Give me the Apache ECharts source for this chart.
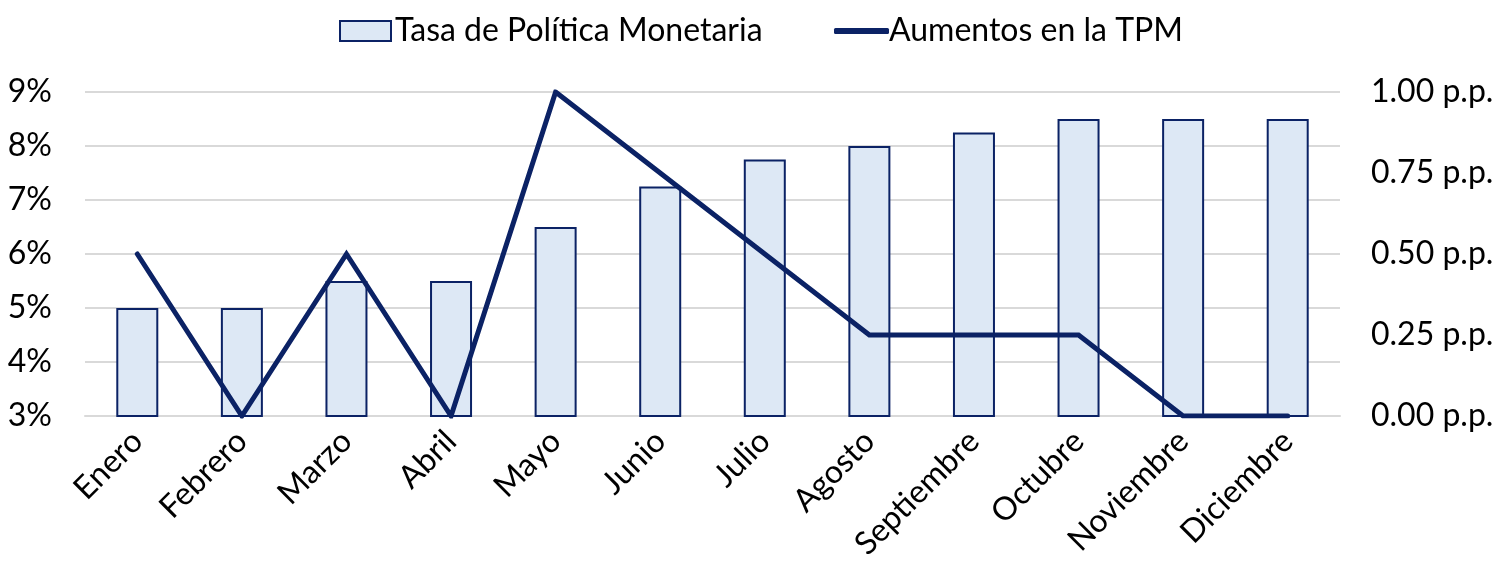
<!DOCTYPE html>
<html>
<head>
<meta charset="utf-8">
<script src="https://cdn.jsdelivr.net/npm/echarts@6/dist/echarts.min.js"></script>
<style>html,body{margin:0;padding:0;background:#fff}#c{width:1508px;height:576px}</style>
</head>
<body>
<div id="c"></div>
<script>
const categories = ['Enero','Febrero','Marzo','Abril','Mayo','Junio','Julio','Agosto','Septiembre','Octubre','Noviembre','Diciembre'];
const tpm = [5, 5, 5.5, 5.5, 6.5, 7.25, 7.75, 8, 8.25, 8.5, 8.5, 8.5];
const aumentos = [0.5, 0, 0.5, 0, 1.0, 0.75, 0.5, 0.25, 0.25, 0.25, 0, 0];
const seriesNames = ['Tasa de Política Monetaria', 'Aumentos en la TPM'];

const FONT = 'Lato';
const FS = 32;
const NAVY = '#0b2265';
const chart = echarts.init(document.getElementById('c'), null, {renderer: 'canvas'});
chart.setOption({
  animation: false,
  backgroundColor: '#ffffff',
  textStyle: {fontFamily: FONT},
  legend: [
    {
      top: 10,
      left: 334,
      itemWidth: 51,
      itemHeight: 20,
      itemGap: 4,
      textStyle: {fontFamily: FONT, fontSize: FS, color: '#000', padding: [0, 0, 0, -1]},
      data: [{name: seriesNames[0], icon: 'rect', itemStyle: {borderWidth: 2}}]
    },
    {
      top: 10,
      left: 829,
      itemWidth: 55,
      itemHeight: 6,
      textStyle: {fontFamily: FONT, fontSize: FS, color: '#000', padding: [0, 0, 0, -5]},
      data: [{name: seriesNames[1], icon: 'roundRect', itemStyle: {color: NAVY, borderWidth: 0}}]
    }
  ],
  grid: {left: 85, right: 168, top: 92, bottom: 160, containLabel: false},
  xAxis: {
    type: 'category',
    data: categories,
    axisLine: {show: true, lineStyle: {color: '#d9d9d9', width: 2}},
    axisTick: {show: false},
    axisLabel: {rotate: 45, fontSize: FS, color: '#000', fontFamily: FONT, margin: 20, interval: 0}
  },
  yAxis: [
    {
      type: 'value', min: 3, max: 9, interval: 1,
      axisLine: {show: false}, axisTick: {show: false},
      splitLine: {lineStyle: {color: '#d9d9d9', width: 2}},
      axisLabel: {formatter: v => v + '%', fontSize: FS, color: '#000', fontFamily: FONT, margin: 33}
    },
    {
      type: 'value', min: 0, max: 1, interval: 0.25,
      axisLine: {show: false}, axisTick: {show: false},
      splitLine: {show: false},
      axisLabel: {formatter: v => v.toFixed(2) + ' p.p.', fontSize: FS, color: '#000', fontFamily: FONT, margin: 31}
    }
  ],
  series: [
    {
      name: seriesNames[0],
      type: 'bar',
      data: tpm,
      barWidth: 42,
      itemStyle: {color: '#dde8f5', borderColor: NAVY, borderWidth: 2}
    },
    {
      name: seriesNames[1],
      type: 'line',
      yAxisIndex: 1,
      data: aumentos,
      symbol: 'none',
      lineStyle: {color: NAVY, width: 5, cap: 'round', join: 'miter'},
      itemStyle: {color: NAVY}
    }
  ]
});
</script>
</body>
</html>
